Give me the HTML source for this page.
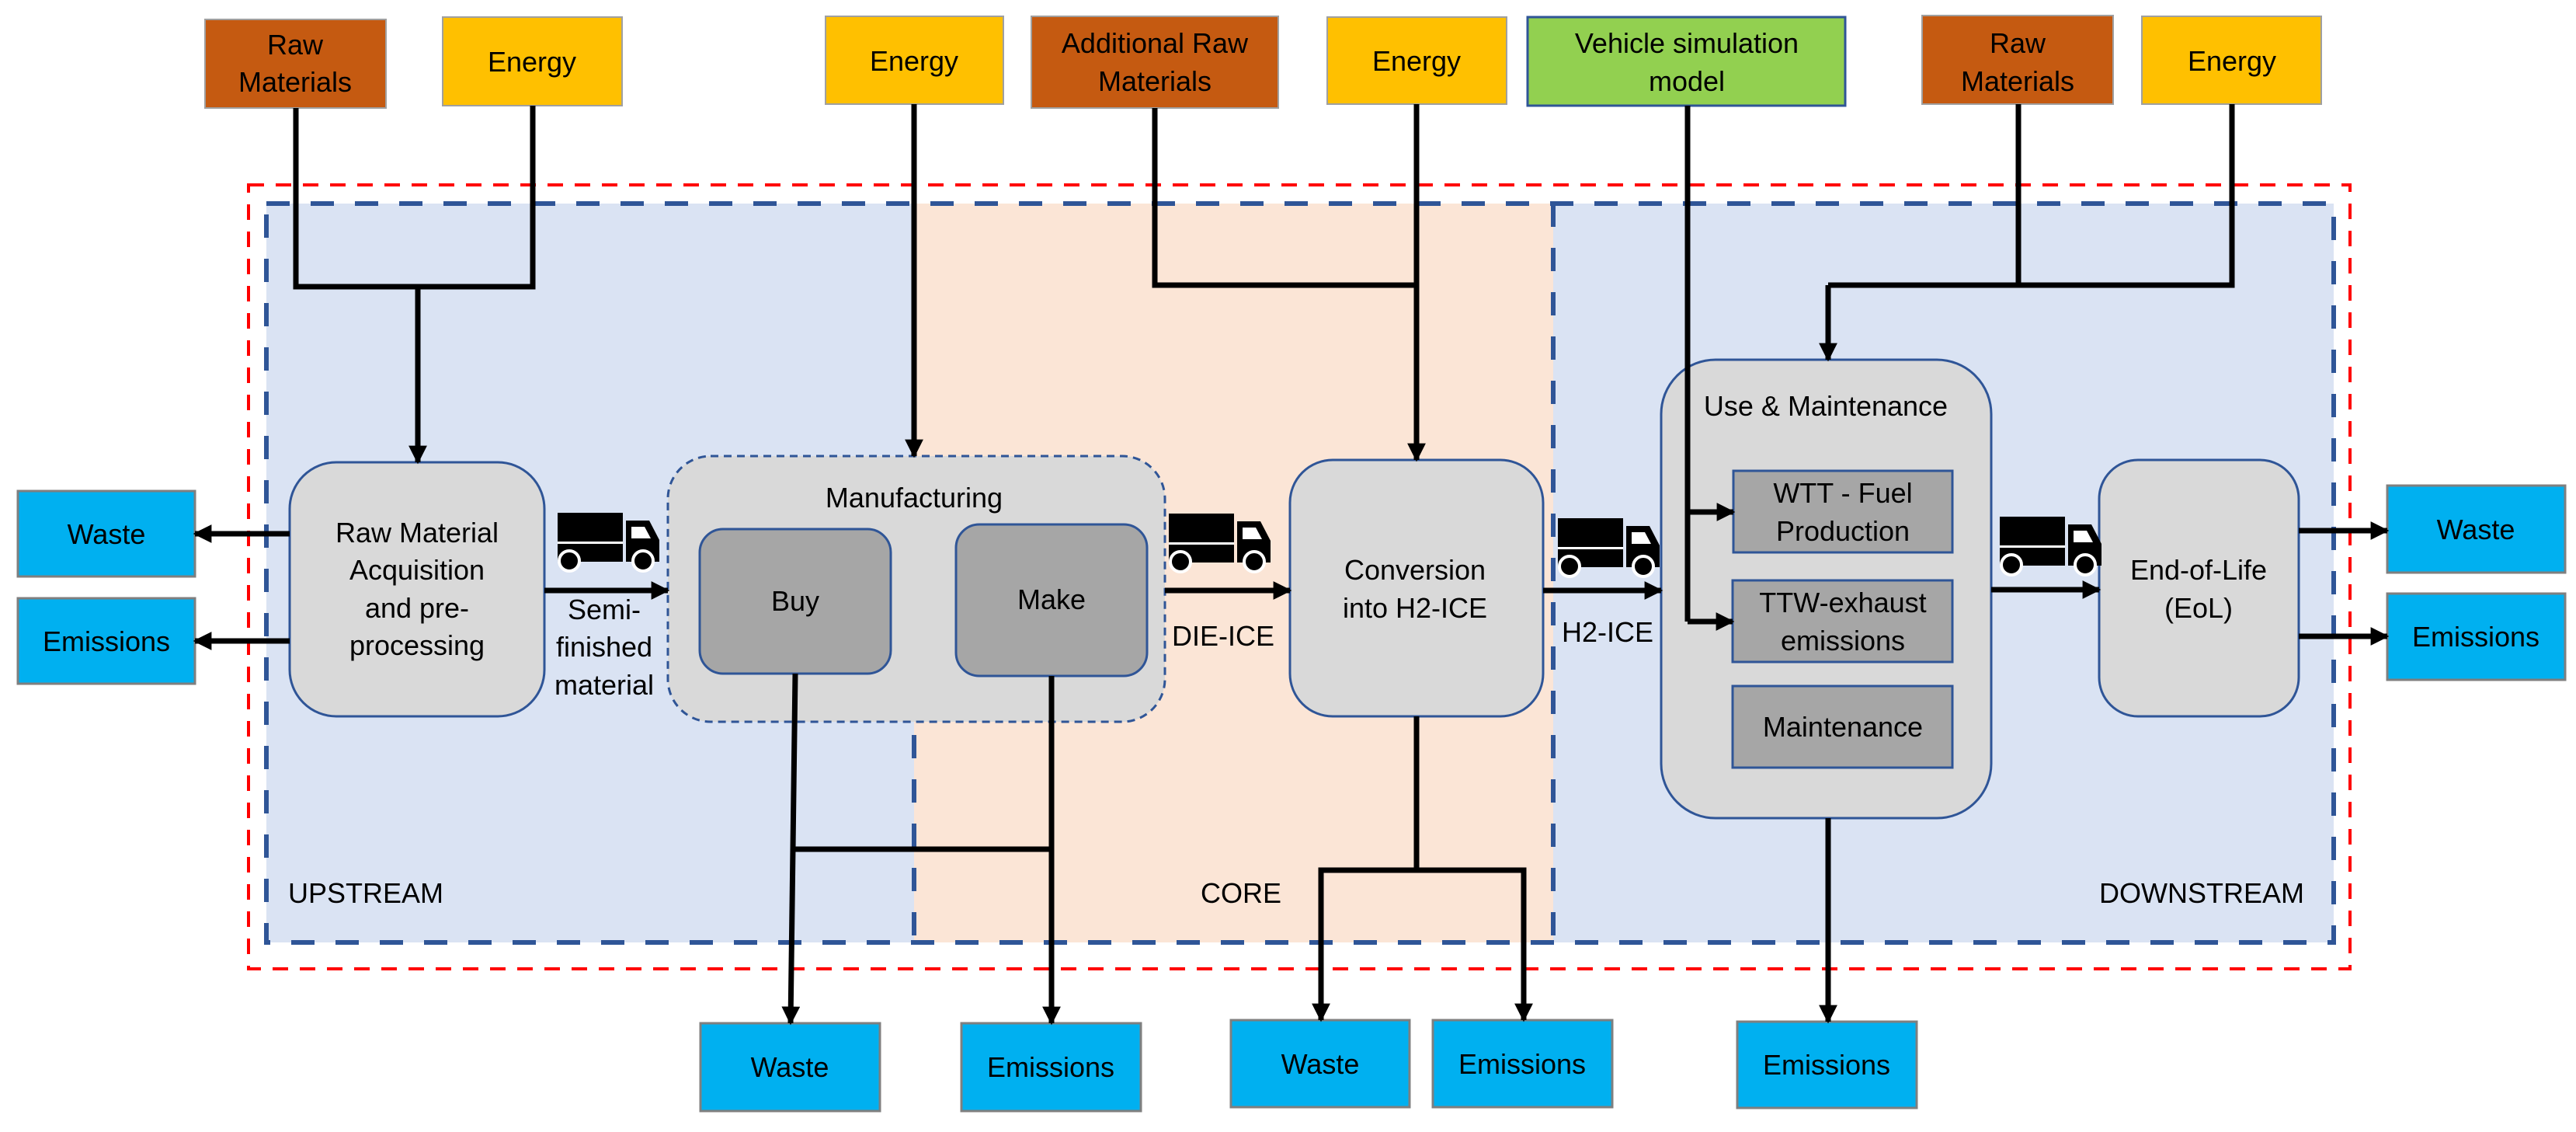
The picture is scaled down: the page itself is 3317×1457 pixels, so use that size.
<!DOCTYPE html>
<html><head><meta charset="utf-8"><style>html,body{margin:0;padding:0;background:#fff}svg{display:block}</style></head>
<body>
<svg width="3317" height="1457" viewBox="0 0 3317 1457" xmlns="http://www.w3.org/2000/svg" font-family="Liberation Sans, sans-serif" font-size="36" fill="#000">
<defs>
<marker id="ah" viewBox="0 0 10 10" refX="9" refY="5" markerWidth="3.4" markerHeight="3.4" orient="auto" markerUnits="strokeWidth"><path d="M0,0 L10,5 L0,10 z" fill="#000"/></marker>
<g id="truck">
<rect x="0" y="0" width="84" height="63" fill="#000"/>
<rect x="0" y="37" width="84" height="3" fill="#fff"/>
<path d="M88,10 L118,10 L131,35 L131,63 L88,63 z" fill="#000"/>
<path d="M95,18 L112,18 L120,33 L95,33 z" fill="#fff"/>
<circle cx="15" cy="62" r="13" fill="#000" stroke="#fff" stroke-width="4"/>
<circle cx="110" cy="62" r="13" fill="#000" stroke="#fff" stroke-width="4"/>
</g>
</defs>

<!-- regions -->
<rect x="343" y="262" width="834" height="951" fill="#dae3f3"/>
<rect x="1177" y="262" width="823" height="951" fill="#fbe5d6"/>
<rect x="2000" y="262" width="1005" height="951" fill="#dae3f3"/>
<rect x="320" y="238" width="2706" height="1009" fill="none" stroke="#ff0000" stroke-width="4" stroke-dasharray="20 15"/>
<rect x="343" y="262" width="2662" height="951" fill="none" stroke="#2f5597" stroke-width="6" stroke-dasharray="30 27"/>
<line x1="1177" y1="262" x2="1177" y2="1213" stroke="#2f5597" stroke-width="6" stroke-dasharray="30 27"/>
<line x1="2000" y1="262" x2="2000" y2="1213" stroke="#2f5597" stroke-width="6" stroke-dasharray="30 27"/>

<text x="371" y="1162">UPSTREAM</text>
<text x="1650" y="1162" text-anchor="end">CORE</text>
<text x="2967" y="1162" text-anchor="end">DOWNSTREAM</text>

<!-- top inputs -->
<g stroke="#a0a0a0" stroke-width="2">
<rect x="264" y="25" width="233" height="114" fill="#c55a11"/>
<rect x="570" y="22" width="231" height="114" fill="#ffc000"/>
<rect x="1063" y="21" width="229" height="113" fill="#ffc000"/>
<rect x="1328" y="21" width="318" height="118" fill="#c55a11"/>
<rect x="1709" y="22" width="231" height="112" fill="#ffc000"/>
<rect x="2475" y="20" width="246" height="114" fill="#c55a11"/>
<rect x="2758" y="21" width="231" height="113" fill="#ffc000"/>
</g>
<rect x="1967" y="22" width="409" height="114" fill="#92d050" stroke="#2f5597" stroke-width="3"/>
<g text-anchor="middle">
<text x="380" y="70">Raw</text><text x="380" y="118">Materials</text>
<text x="685" y="92">Energy</text>
<text x="1177" y="91">Energy</text>
<text x="1487" y="68">Additional Raw</text><text x="1487" y="117">Materials</text>
<text x="1824" y="91">Energy</text>
<text x="2172" y="68">Vehicle simulation</text><text x="2172" y="117">model</text>
<text x="2598" y="68">Raw</text><text x="2598" y="117">Materials</text>
<text x="2874" y="91">Energy</text>
</g>

<!-- process boxes -->
<rect x="373" y="595" width="328" height="327" rx="60" fill="#d9d9d9" stroke="#2f5597" stroke-width="3"/>
<rect x="860" y="587" width="640" height="342" rx="55" fill="#d9d9d9" stroke="#2f5597" stroke-width="3" stroke-dasharray="10 7"/>
<rect x="901" y="681" width="246" height="186" rx="30" fill="#a6a6a6" stroke="#2f5597" stroke-width="3"/>
<rect x="1231" y="675" width="246" height="195" rx="30" fill="#a6a6a6" stroke="#2f5597" stroke-width="3"/>
<rect x="1661" y="592" width="326" height="330" rx="55" fill="#d9d9d9" stroke="#2f5597" stroke-width="3"/>
<rect x="2139" y="463" width="425" height="590" rx="70" fill="#d9d9d9" stroke="#2f5597" stroke-width="3"/>
<rect x="2232" y="606" width="282" height="105" fill="#a6a6a6" stroke="#2f5597" stroke-width="3"/>
<rect x="2231" y="747" width="283" height="105" fill="#a6a6a6" stroke="#2f5597" stroke-width="3"/>
<rect x="2231" y="883" width="283" height="105" fill="#a6a6a6" stroke="#2f5597" stroke-width="3"/>
<rect x="2703" y="592" width="257" height="330" rx="50" fill="#d9d9d9" stroke="#2f5597" stroke-width="3"/>

<g text-anchor="middle">
<text x="537" y="698">Raw Material</text><text x="537" y="746">Acquisition</text><text x="537" y="795">and pre-</text><text x="537" y="843">processing</text>
<text x="1177" y="653">Manufacturing</text>
<text x="1024" y="786">Buy</text>
<text x="1354" y="784">Make</text>
<text x="1822" y="746">Conversion</text><text x="1822" y="795">into H2-ICE</text>
<text x="2351" y="535">Use &amp; Maintenance</text>
<text x="2373" y="647">WTT - Fuel</text><text x="2373" y="696">Production</text>
<text x="2373" y="788">TTW-exhaust</text><text x="2373" y="837">emissions</text>
<text x="2373" y="948">Maintenance</text>
<text x="2831" y="746">End-of-Life</text><text x="2831" y="795">(EoL)</text>
<text x="778" y="797">Semi-</text><text x="778" y="845">finished</text><text x="778" y="894">material</text>
<text x="1575" y="831">DIE-ICE</text>
<text x="2070" y="826">H2-ICE</text>
</g>

<!-- trucks -->
<use href="#truck" x="718" y="660"/>
<use href="#truck" x="1505" y="661"/>
<use href="#truck" x="2006" y="667"/>
<use href="#truck" x="2575" y="665"/>

<!-- output boxes -->
<g stroke="#7f7f7f" stroke-width="3" fill="#00b0f0">
<rect x="23" y="632" width="228" height="110"/>
<rect x="23" y="770" width="228" height="110"/>
<rect x="3074" y="625" width="229" height="112"/>
<rect x="3074" y="764" width="229" height="111"/>
<rect x="902" y="1317" width="231" height="113"/>
<rect x="1238" y="1317" width="231" height="113"/>
<rect x="1585" y="1313" width="230" height="112"/>
<rect x="1845" y="1313" width="231" height="112"/>
<rect x="2237" y="1315" width="231" height="111"/>
</g>
<g text-anchor="middle">
<text x="137" y="700">Waste</text>
<text x="137" y="838">Emissions</text>
<text x="3188" y="694">Waste</text>
<text x="3188" y="832">Emissions</text>
<text x="1017" y="1386">Waste</text>
<text x="1353" y="1386">Emissions</text>
<text x="1700" y="1382">Waste</text>
<text x="1960" y="1382">Emissions</text>
<text x="2352" y="1383">Emissions</text>
</g>

<!-- connectors -->
<g stroke="#000" stroke-width="7" fill="none">
<polyline points="381,139 381,369 686,369 686,136"/>
<line x1="538" y1="369" x2="538" y2="595" marker-end="url(#ah)"/>
<line x1="1177" y1="134" x2="1177" y2="587" marker-end="url(#ah)"/>
<polyline points="1487,139 1487,367 1824,367"/>
<line x1="1824" y1="134" x2="1824" y2="592" marker-end="url(#ah)"/>
<polyline points="2599,134 2599,367"/>
<polyline points="2874,134 2874,367 2354,367"/>
<line x1="2354" y1="367" x2="2354" y2="463" marker-end="url(#ah)"/>
<polyline points="2173,136 2173,800"/>
<line x1="2173" y1="659" x2="2232" y2="659" marker-end="url(#ah)"/>
<line x1="2173" y1="800" x2="2231" y2="800" marker-end="url(#ah)"/>
<line x1="373" y1="687" x2="251" y2="687" marker-end="url(#ah)"/>
<line x1="373" y1="825" x2="251" y2="825" marker-end="url(#ah)"/>
<line x1="701" y1="760" x2="860" y2="760" marker-end="url(#ah)"/>
<line x1="1500" y1="760" x2="1661" y2="760" marker-end="url(#ah)"/>
<line x1="1987" y1="760" x2="2139" y2="760" marker-end="url(#ah)"/>
<line x1="2564" y1="759" x2="2703" y2="759" marker-end="url(#ah)"/>
<line x1="2960" y1="683" x2="3074" y2="683" marker-end="url(#ah)"/>
<line x1="2960" y1="819" x2="3074" y2="819" marker-end="url(#ah)"/>
<line x1="1024" y1="867" x2="1018" y2="1317" marker-end="url(#ah)"/>
<line x1="1354" y1="870" x2="1354" y2="1317" marker-end="url(#ah)"/>
<line x1="1022" y1="1093" x2="1354" y2="1093"/>
<line x1="1824" y1="922" x2="1824" y2="1120"/>
<polyline points="1701,1313 1701,1120 1962,1120 1962,1313" marker-start="none"/>
<line x1="1701" y1="1200" x2="1701" y2="1313" marker-end="url(#ah)"/>
<line x1="1962" y1="1200" x2="1962" y2="1313" marker-end="url(#ah)"/>
<line x1="2354" y1="1053" x2="2354" y2="1315" marker-end="url(#ah)"/>
</g>
</svg>
</body></html>
